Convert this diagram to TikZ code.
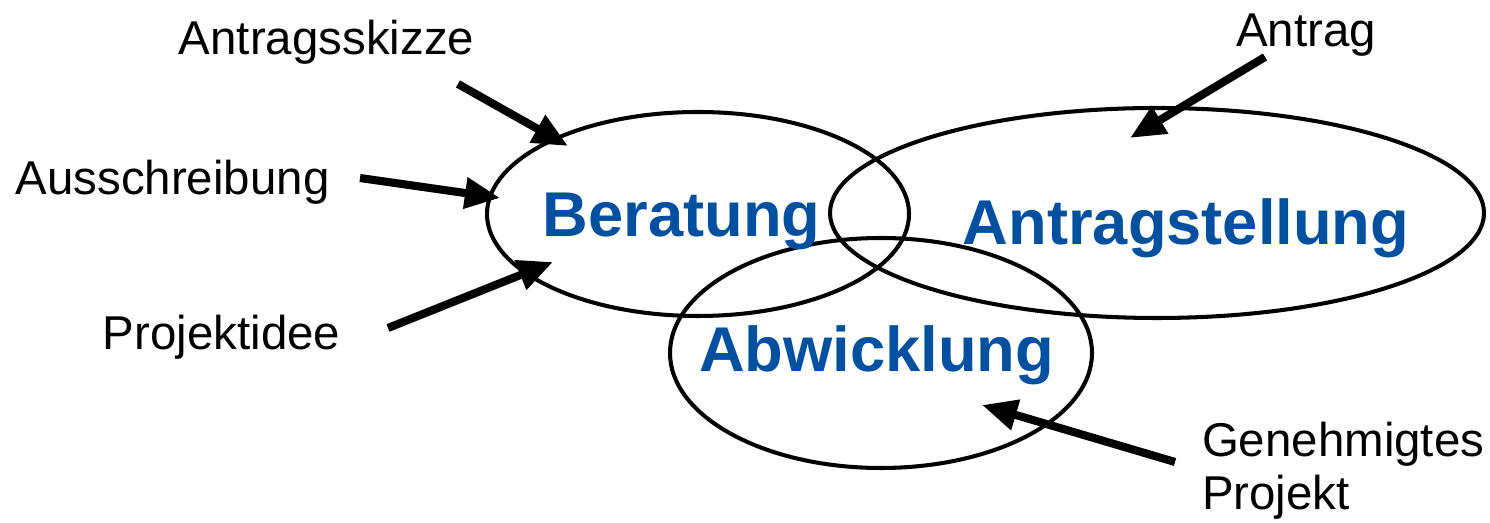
\documentclass[tikz,border=0pt]{standalone}
\usepackage{fontspec}
\setmainfont{Liberation Sans}
\usetikzlibrary{arrows.meta,shapes.geometric}
\usepackage{xcolor}
\definecolor{phaseblue}{HTML}{0050A0}

\begin{document}
\begin{tikzpicture}[line width=1.15pt,
	phase/.style={ellipse,draw=black,line width=1.15pt,inner sep=0pt},
	title/.style={anchor=base,text=phaseblue,font=\fontsize{18}{20}\selectfont\bfseries},
	doc/.style={anchor=base,font=\fontsize{13.5}{15.2}\selectfont},
	feed/.style={line width=2.3pt,-{Triangle[length=10pt,width=8.5pt]}}]
	\useasboundingbox (0,0) rectangle (14.9,5.23);
	% phases
	\node (ber) at (6.98,3.09) [phase,minimum width=4.22cm,minimum height=2.04cm] {};
	\node (ant) at (11.57,3.10) [phase,minimum width=6.54cm,minimum height=2.10cm] {};
	\node (abw) at (8.81,1.70) [phase,minimum width=4.22cm,minimum height=2.30cm] {};
	\node (bert) at (6.815,2.86) [title] {Beratung};
	\node (antt) at (11.86,2.78) [title] {Antragstellung};
	\node (abwt) at (8.765,1.51) [title] {Abwicklung};
	% inputs
	\node (skz) at (3.265,4.68) [doc] {Antragsskizze};
	\node (aus) at (1.725,3.28) [doc] {Ausschreibung};
	\node (idee) at (2.215,1.73) [doc] {Projektidee};
	\node (antr) at (13.06,4.76) [doc] {Antrag};
	\node (gen) at (12.0,0.13) [doc,anchor=base west,inner xsep=0pt,align=left] {Genehmigtes\\Projekt};
	\coordinate (skz-a) at (4.58,4.39);
	\coordinate (skz-b) at (5.68,3.77);
	\coordinate (aus-a) at (3.60,3.45);
	\coordinate (aus-b) at (5.00,3.25);
	\coordinate (idee-a) at (3.88,1.95);
	\coordinate (idee-b) at (5.53,2.61);
	\coordinate (antr-a) at (12.65,4.66);
	\coordinate (antr-b) at (11.30,3.85);
	\coordinate (gen-a) at (11.75,0.61);
	\coordinate (gen-b) at (9.82,1.18);
	\draw [feed] (skz-a) -- (skz-b);
	\draw [feed] (aus-a) -- (aus-b);
	\draw [feed] (idee-a) -- (idee-b);
	\draw [feed] (antr-a) -- (antr-b);
	\draw [feed] (gen-a) -- (gen-b);
\end{tikzpicture}
\end{document}
